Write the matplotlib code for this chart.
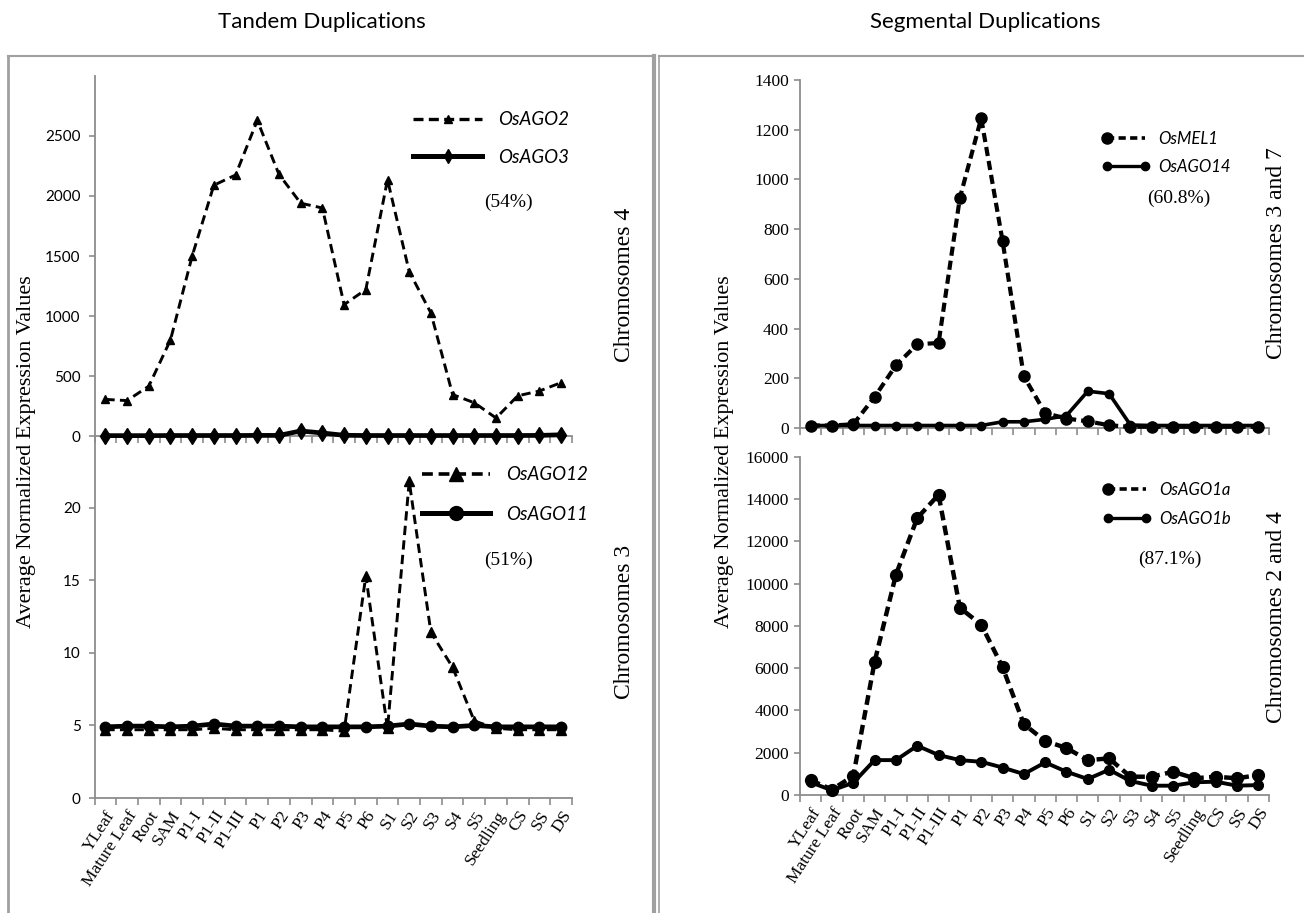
import numpy as np
import matplotlib
matplotlib.use("Agg")
import matplotlib.pyplot as plt
from matplotlib.lines import Line2D
from matplotlib.legend_handler import HandlerLine2D

# ---------------- data ----------------
stages = ["YLeaf", "Mature Leaf", "Root", "SAM", "P1-I", "P1-II", "P1-III", "P1", "P2", "P3", "P4",
          "P5", "P6", "S1", "S2", "S3", "S4", "S5", "Seedling", "CS", "SS", "DS"]

# tandem, chromosome 4
osago2 = [305, 295, 415, 800, 1500, 2090, 2175, 2630, 2180, 1940, 1900,
          1095, 1220, 2135, 1370, 1025, 345, 277, 150, 335, 375, 445]
osago3 = [3, 3, 3, 4, 4, 4, 4, 5, 5, 42, 25,
          6, 4, 4, 4, 4, 4, 4, 4, 4, 5, 10]
# tandem, chromosome 3
osago12 = [4.7, 4.7, 4.7, 4.7, 4.7, 4.8, 4.7, 4.7, 4.7, 4.7, 4.7,
           4.6, 15.3, 4.8, 21.8, 11.4, 9.0, 5.3, 4.8, 4.7, 4.7, 4.7]
osago11 = [4.9, 4.95, 4.95, 4.9, 4.95, 5.1, 4.95, 4.95, 4.95, 4.9, 4.9,
           4.9, 4.9, 4.95, 5.1, 4.95, 4.9, 5.0, 4.9, 4.9, 4.9, 4.9]
# segmental, chromosomes 3 and 7
osmel1 = [10, 10, 15, 125, 252, 337, 342, 926, 1246, 753, 208,
          60, 38, 27, 11, 5, 5, 5, 5, 5, 5, 5]
osago14 = [10, 10, 10, 10, 10, 10, 10, 10, 10, 25, 25,
           35, 50, 148, 138, 12, 10, 10, 10, 10, 10, 10]
# segmental, chromosomes 2 and 4
osago1a = [700, 260, 900, 6300, 10420, 13100, 14200, 8850, 8060, 6050, 3350,
           2560, 2220, 1650, 1730, 865, 865, 1100, 790, 865, 790, 945]
osago1b = [600, 220, 580, 1650, 1650, 2330, 1890, 1650, 1570, 1300, 990,
           1540, 1100, 755, 1195, 660, 440, 440, 600, 630, 440, 470]

W, H = 1304, 913
GRAY = "#8c8c8c"
SERIF = "Liberation Serif"
SANS = "Lato"

def box(x0, y0, x1, y1):
    return [x0 / W, 1 - y1 / H, (x1 - x0) / W, (y1 - y0) / H]

def fpos(x, y):
    return (x / W, 1 - y / H)

class LeftMarker(HandlerLine2D):
    # excel style key: marker only on the left end
    def create_artists(self, *args, **kw):
        arts = super().create_artists(*args, **kw)
        for a in arts:
            a.set_markevery([0])
        return arts

fig = plt.figure(figsize=(W / 100, H / 100), dpi=100)

# panel frames
for xs, ys, lw in [((8, 8), (56, 913), 2.0), ((8, 654), (56, 56), 1.5),
                   ((654, 654), (56, 913), 3.0), ((659, 659), (56, 913), 1.2),
                   ((659, 1304), (56, 56), 1.5)]:
    fig.add_artist(Line2D([x / W for x in xs], [1 - y / H for y in ys], color="#a0a0a0", lw=lw))

x = np.arange(len(stages))

def style(ax, ymax, yticks, ylabfont, ylabsize, ypad, show_x):
    ax.set_xlim(-0.5, len(stages) - 0.5)
    ax.set_ylim(0, ymax)
    ax.set_yticks(yticks)
    ax.set_xticks(x)
    ax.set_xticks(np.arange(-0.5, len(stages), 1), minor=True)
    for s in ["top", "right"]:
        ax.spines[s].set_visible(False)
    for s in ["left", "bottom"]:
        ax.spines[s].set_color(GRAY)
        ax.spines[s].set_linewidth(1.3)
    ax.tick_params(axis="x", which="major", length=0, pad=7)
    ax.tick_params(axis="x", which="minor", length=5, width=1.2, color=GRAY, direction="out")
    ax.tick_params(axis="y", length=4, width=1.2, color=GRAY, direction="out", pad=ypad)
    for lab in ax.get_yticklabels():
        lab.set_fontfamily(ylabfont)
        lab.set_fontsize(ylabsize)
    if show_x:
        ax.set_xticklabels(stages, rotation=57, ha="right", va="top",
                           rotation_mode="anchor", fontfamily=SERIF, fontsize=12.5)
    else:
        ax.set_xticklabels([])
    ax.patch.set_alpha(0)

# ---------------- tandem ----------------
ax1 = fig.add_axes(box(94.5, 76, 572, 436))
ax1.plot(x, osago2, color="black", lw=2.1, dashes=(3.2, 1.8), marker="^", ms=5.5, clip_on=False, zorder=3)
ax1.plot(x, osago3, color="black", lw=3.4, marker="d", ms=8, clip_on=False, zorder=4)
style(ax1, 3000, np.arange(0, 2501, 500), SANS, 11, 6, False)
h1 = [Line2D([], [], color="black", lw=2.4, dashes=(3, 1.6), marker="^", ms=5.5),
      Line2D([], [], color="black", lw=3.6, marker="d", ms=7.5)]
ax1.legend(h1, ["OsAGO2", "OsAGO3"], loc="center left", bbox_to_anchor=fpos(413, 138.5),
           bbox_transform=fig.transFigure, frameon=False, borderpad=0, borderaxespad=0,
           numpoints=1, handlelength=3.7, handletextpad=0.85, labelspacing=1.1,
           prop={"family": SANS, "style": "italic", "size": 13.5})

ax2 = fig.add_axes(box(94.5, 435, 572, 798))
ax2.plot(x, osago12, color="black", lw=2.1, dashes=(3.2, 1.8), marker="^", ms=6.5, clip_on=False, zorder=3)
ax2.plot(x, osago11, color="black", lw=3.4, marker="o", ms=7.5, clip_on=False, zorder=4)
style(ax2, 25, np.arange(0, 21, 5), SANS, 11, 6, True)
h2 = [Line2D([], [], color="black", lw=2.6, dashes=(3, 1.6), marker="^", ms=10),
      Line2D([], [], color="black", lw=3.6, marker="o", ms=10)]
ax2.legend(h2, ["OsAGO12", "OsAGO11"], loc="center left", bbox_to_anchor=fpos(422, 494.5),
           bbox_transform=fig.transFigure, frameon=False, borderpad=0, borderaxespad=0,
           numpoints=1, handlelength=3.6, handletextpad=0.9, labelspacing=1.2,
           prop={"family": SANS, "style": "italic", "size": 13.5})

# ---------------- segmental ----------------
ax3 = fig.add_axes(box(800, 80, 1269, 428))
ax3.plot(x, osmel1, color="black", lw=3.0, dashes=(2.2, 1.2), marker="o", ms=8, clip_on=False, zorder=3)
ax3.plot(x, osago14, color="black", lw=2.6, marker="o", ms=6, clip_on=False, zorder=4)
style(ax3, 1400, np.arange(0, 1401, 200), SERIF, 12.5, 4, False)
h3 = [Line2D([], [], color="black", lw=2.6, dashes=(2, 1.2), marker="o", ms=8),
      Line2D([], [], color="black", lw=2.4, marker="o", ms=6)]
ax3.legend(h3, ["OsMEL1", "OsAGO14"], loc="center left", bbox_to_anchor=fpos(1102, 153),
           bbox_transform=fig.transFigure, frameon=False, borderpad=0, borderaxespad=0,
           numpoints=2, handlelength=2.85, handletextpad=0.5, labelspacing=0.75,
           handler_map={h3[0]: LeftMarker()},
           prop={"family": SANS, "style": "italic", "size": 12})

ax4 = fig.add_axes(box(800, 456.7, 1269, 795))
ax4.plot(x, osago1a, color="black", lw=3.2, dashes=(2.2, 1.2), marker="o", ms=8.5, clip_on=False, zorder=3)
ax4.plot(x, osago1b, color="black", lw=2.8, marker="o", ms=7, clip_on=False, zorder=4)
style(ax4, 16000, np.arange(0, 16001, 2000), SERIF, 12.5, 4, True)
h4 = [Line2D([], [], color="black", lw=2.6, dashes=(2, 1.2), marker="o", ms=8),
      Line2D([], [], color="black", lw=2.4, marker="o", ms=6)]
ax4.legend(h4, ["OsAGO1a", "OsAGO1b"], loc="center left", bbox_to_anchor=fpos(1103, 504.5),
           bbox_transform=fig.transFigure, frameon=False, borderpad=0, borderaxespad=0,
           numpoints=2, handlelength=2.85, handletextpad=0.55, labelspacing=0.75,
           handler_map={h4[0]: LeftMarker()},
           prop={"family": SANS, "style": "italic", "size": 12})

# ---------------- texts ----------------
fig.text(*fpos(322, 22), "Tandem Duplications", ha="center", va="center", family=SANS, fontsize=16)
fig.text(*fpos(985, 22), "Segmental Duplications", ha="center", va="center", family=SANS, fontsize=16)
for xx in (27, 725):
    fig.text(*fpos(xx, 452), "Average Normalized Expression Values", rotation=90,
             ha="center", va="center", family=SERIF, fontsize=16)
for xx, yy, t in [(625, 285, "Chromosomes 4"), (625, 622, "Chromosomes 3"),
                  (1276, 253, "Chromosomes 3 and 7"), (1276, 617, "Chromosomes 2 and 4")]:
    fig.text(*fpos(xx, yy), t, rotation=90, ha="center", va="center", family=SERIF, fontsize=17)
for xx, yy, t in [(508, 202, "(54%)"), (508, 560, "(51%)"),
                  (1179, 198, "(60.8%)"), (1170, 559, "(87.1%)")]:
    fig.text(*fpos(xx, yy), t, ha="center", va="center", family=SERIF, fontsize=14)

fig.savefig("out.png", dpi=100)
